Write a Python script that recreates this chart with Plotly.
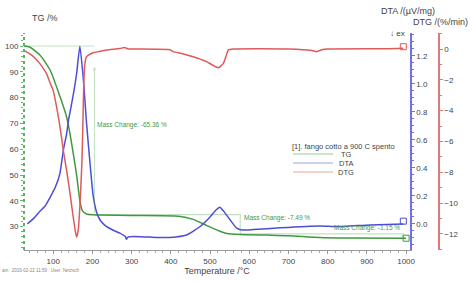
import plotly.graph_objects as go

# ---------------- data ----------------
tg_temp = [25, 40, 66, 92, 117, 134, 141, 151, 161, 168, 175, 185, 200, 219, 300, 420,
           457, 492, 525, 543, 577, 650, 700, 780, 850, 1000]
tg_val = [100, 99.6, 96.5, 90.7, 80.5, 72.6, 67.5, 58.5, 48.5, 40.0, 36.0, 34.9, 34.6, 34.5,
          34.3, 34.0, 32.8, 30.4, 28.2, 27.3, 26.9, 26.7, 26.5, 25.8, 25.6, 25.5]

dta_temp = [34, 50, 66, 80, 92, 105, 117, 126, 134, 139, 143, 151, 160, 168, 177, 185, 194,
            202, 211, 219, 232, 253, 270, 284, 287, 290, 304, 347, 398, 440, 474, 500, 515,
            525, 535, 551, 568, 581, 610, 679, 781, 823, 908, 993]
dta_val = [0.0, 0.04, 0.09, 0.13, 0.19, 0.26, 0.36, 0.53, 0.64, 0.74, 0.80, 0.92, 1.08, 1.27,
           1.03, 0.72, 0.43, 0.20, 0.08, 0.03, -0.01, -0.045, -0.066, -0.09, -0.11, -0.095,
           -0.09, -0.094, -0.096, -0.079, -0.02, 0.05, 0.10, 0.12, 0.09, 0.03, -0.03, -0.043,
           -0.04, -0.027, -0.014, -0.019, -0.007, 0.0]

dtg_temp = [25, 32, 45, 58, 66, 83, 92, 100, 109, 117, 126, 135, 143, 151, 157, 160, 164, 168,
            173, 176, 178, 181, 185, 190, 202, 215, 237, 270, 282, 290, 300, 398, 406, 430,
            457, 491, 521, 534, 541, 547, 560, 700, 760, 772, 785, 800, 950, 993]
dtg_val = [-0.1, -0.18, -0.4, -0.71, -0.95, -1.6, -2.2, -2.7, -3.8, -5.0, -6.6, -8.0, -9.4,
           -10.9, -11.9, -12.2, -11.7, -10.2, -7.5, -4.5, -2.2, -0.9, -0.5, -0.39, -0.24,
           -0.17, -0.06, 0.03, 0.1, 0.02, 0.0, -0.05, -0.17, -0.3, -0.5, -0.82, -1.21, -0.93,
           -0.45, -0.06, 0.0, 0.0, -0.1, -0.17, -0.05, 0.0, 0.02, 0.05]

# mass change steps (temperature, TG level)
step_temp = [25, 205, 577, 993]
step_tg = [100, 34.64, 27.15, 26.0]
step_labels = ["Mass Change: -65.36 %", "Mass Change: -7.49 %", "Mass Change: -1.15 %"]

x_ticks = [100, 200, 300, 400, 500, 600, 700, 800, 900, 1000]
tg_ticks = [30, 40, 50, 60, 70, 80, 90, 100]
dta_ticks = [0.0, 0.2, 0.4, 0.6, 0.8, 1.0, 1.2]
dtg_ticks = [0, -2, -4, -6, -8, -10, -12]

GREEN = "#3f9a3f"
BLUE = "#4d4dd6"
RED = "#e05a5a"
LGREEN = "rgba(80,170,80,0.35)"
FONT = "Liberation Sans, Arial, sans-serif"
TXT = "#444444"

fig = go.Figure()

# light annotation lines of mass change steps
fig.add_trace(go.Scatter(x=[step_temp[0], step_temp[1]], y=[step_tg[0], step_tg[0]], mode="lines",
                         line=dict(color=LGREEN, width=1.2), showlegend=False, hoverinfo="skip"))
fig.add_trace(go.Scatter(x=[step_temp[1], step_temp[2], step_temp[2]],
                         y=[step_tg[1], step_tg[1], step_tg[2]], mode="lines",
                         line=dict(color=LGREEN, width=1.2), showlegend=False, hoverinfo="skip"))
fig.add_trace(go.Scatter(x=[step_temp[2], step_temp[3], step_temp[3]],
                         y=[step_tg[2], step_tg[2], step_tg[3]], mode="lines",
                         line=dict(color=LGREEN, width=1.2), showlegend=False, hoverinfo="skip"))

fig.add_trace(go.Scatter(x=tg_temp, y=tg_val, mode="lines", name="TG",
                         line=dict(color=GREEN, width=1.5, shape="spline", smoothing=0.6),
                         yaxis="y"))
fig.add_trace(go.Scatter(x=dta_temp, y=dta_val, mode="lines", name="DTA",
                         line=dict(color=BLUE, width=1.5, shape="spline", smoothing=0.5),
                         yaxis="y2"))
fig.add_trace(go.Scatter(x=dtg_temp, y=dtg_val, mode="lines", name="DTG",
                         line=dict(color=RED, width=1.5, shape="spline", smoothing=0.5),
                         yaxis="y3"))

# end markers [1]
fig.add_trace(go.Scatter(x=[tg_temp[-1]], y=[tg_val[-1]], mode="markers", yaxis="y",
                         marker=dict(symbol="square-open", size=6, color=GREEN, line=dict(width=1)),
                         showlegend=False, hoverinfo="skip"))
fig.add_trace(go.Scatter(x=[dta_temp[-1]], y=[dta_val[-1] + 0.02], mode="markers", yaxis="y2",
                         marker=dict(symbol="square-open", size=6, color=BLUE, line=dict(width=1)),
                         showlegend=False, hoverinfo="skip"))
fig.add_trace(go.Scatter(x=[dtg_temp[-1]], y=[dtg_val[-1] + 0.1], mode="markers", yaxis="y3",
                         marker=dict(symbol="square-open", size=6, color=RED, line=dict(width=1)),
                         showlegend=False, hoverinfo="skip"))

xdom_end = 386 / 415

fig.update_layout(
    width=472, height=281,
    margin=dict(l=24, r=33, t=33, b=31, autoexpand=False),
    paper_bgcolor="white", plot_bgcolor="white",
    showlegend=False,
    font=dict(family=FONT, size=8, color=TXT),
    xaxis=dict(domain=[0, xdom_end], range=[25.5, 1010], tickvals=x_ticks, automargin=False,
               showline=True, linecolor="#999999", linewidth=1, mirror=False,
               ticks="outside", ticklen=3, tickcolor="#999999", showgrid=False, zeroline=False,
               minor=dict(dtick=20, ticks="outside", ticklen=2, tickcolor="#aaaaaa"),
               tickfont=dict(size=8, color=TXT),
               title=dict(text="Temperature /°C", font=dict(size=9, color=TXT), standoff=0)),
    yaxis=dict(range=[20.93, 105.04], tickvals=tg_ticks, showgrid=False, zeroline=False,
               automargin=False,
               showline=False, ticks="outside", ticklen=3, tickcolor="#5fbf5f",
               minor=dict(dtick=2, ticks="outside", ticklen=2, tickcolor="#5fbf5f"),
               tickfont=dict(size=8, color=TXT)),
    yaxis2=dict(range=[-0.186, 1.364], tickvals=dta_ticks, tickformat=".1f", automargin=False,
                overlaying="y", side="right", anchor="x", showgrid=False, zeroline=False,
                showline=True, linecolor="#7070ee", linewidth=1.5,
                ticks="outside", ticklen=3, tickcolor="#7070ee",
                minor=dict(dtick=0.05, ticks="outside", ticklen=2, tickcolor="#7070ee"),
                tickfont=dict(size=8, color=TXT)),
    yaxis3=dict(range=[-13.04, 1.04], tickvals=dtg_ticks, automargin=False,
                overlaying="y", side="right", anchor="free", position=1.0,
                showgrid=False, zeroline=False,
                showline=True, linecolor="#e07a7a", linewidth=1.5,
                ticks="outside", ticklen=3, tickcolor="#e07a7a",
                minor=dict(dtick=1, ticks="outside", ticklen=2, tickcolor="#e07a7a"),
                tickfont=dict(size=8, color=TXT)),
)

# left axis dotted green line
fig.add_shape(type="line", xref="paper", yref="paper", x0=0, x1=0, y0=0, y1=1,
              line=dict(color="#55b855", width=2, dash="dot"))

# arrow for first mass change
fig.add_annotation(x=step_temp[1], y=92, ax=step_temp[1], ay=step_tg[1], xref="x", yref="y",
                   axref="x", ayref="y", showarrow=True, arrowhead=2, arrowsize=0.7,
                   arrowwidth=1, arrowcolor=LGREEN, text="")

# mass change labels
fig.add_annotation(x=step_temp[1] + 2, y=69.5, text=step_labels[0], showarrow=False,
                   xanchor="left", yanchor="middle", font=dict(size=6.5, color=GREEN))
fig.add_annotation(x=step_temp[2] + 4, y=33.4, text=step_labels[1], showarrow=False,
                   xanchor="left", yanchor="middle", font=dict(size=6.5, color=GREEN))
fig.add_annotation(x=step_temp[3] - 4, y=29.4, text=step_labels[2], showarrow=False,
                   xanchor="right", yanchor="middle", font=dict(size=6.5, color=GREEN))

# axis titles
fig.add_annotation(xref="paper", yref="paper", x=0.015, y=1.0, yshift=33 - 18, text="TG /%",
                   showarrow=False, xanchor="left", yanchor="middle", font=dict(size=9, color=TXT))
fig.add_annotation(xref="paper", yref="paper", x=(437 - 24) / 415, y=1.0, yshift=33 - 11,
                   text="DTA /(µV/mg)", showarrow=False, xanchor="right", yanchor="middle",
                   font=dict(size=9, color=TXT))
fig.add_annotation(xref="paper", yref="paper", x=(470 - 24) / 415, y=1.0, yshift=33 - 22,
                   text="DTG /(%/min)", showarrow=False, xanchor="right", yanchor="middle",
                   font=dict(size=9, color=TXT))
fig.add_annotation(xref="paper", yref="paper", x=(407 - 24) / 415, y=1.0, yshift=0,
                   text="↓ ex", showarrow=False, xanchor="right", yanchor="middle",
                   font=dict(size=8, color=TXT))

# custom legend
lx0, lx1 = (293 - 24) / 415, (333 - 24) / 415
legend_rows = [("TG", "rgba(63,154,63,0.55)", 154), ("DTA", "rgba(77,77,214,0.55)", 163),
               ("DTG", "rgba(224,90,90,0.55)", 172)]
fig.add_annotation(xref="paper", yref="paper", x=(290 - 24) / 415, y=(250 - 146) / 217,
                   text="[1]. fango cotto a 900 C spento", showarrow=False, xanchor="left",
                   yanchor="middle", font=dict(size=7.5, color=TXT))
for name, col, py in legend_rows:
    yy = (250 - py) / 217
    fig.add_shape(type="line", xref="paper", yref="paper", x0=lx0, x1=lx1, y0=yy, y1=yy,
                  line=dict(color=col, width=1))
    fig.add_annotation(xref="paper", yref="paper", x=(346 - 24) / 415, y=yy, text=name,
                       showarrow=False, xanchor="center", yanchor="middle",
                       font=dict(size=7.5, color=TXT))

# footer
fig.add_annotation(xref="paper", yref="paper", x=-24 / 415, y=-(270 - 250) / 217,
                   text="ain:  2016-02-22 11:59   User: Netzsch", showarrow=False,
                   xanchor="left", yanchor="middle", font=dict(size=4.5, color="#888888"))

fig.write_html("out.html", config={"displayModeBar": False},
               post_script="document.body.style.margin='0';document.body.style.padding='0';")
